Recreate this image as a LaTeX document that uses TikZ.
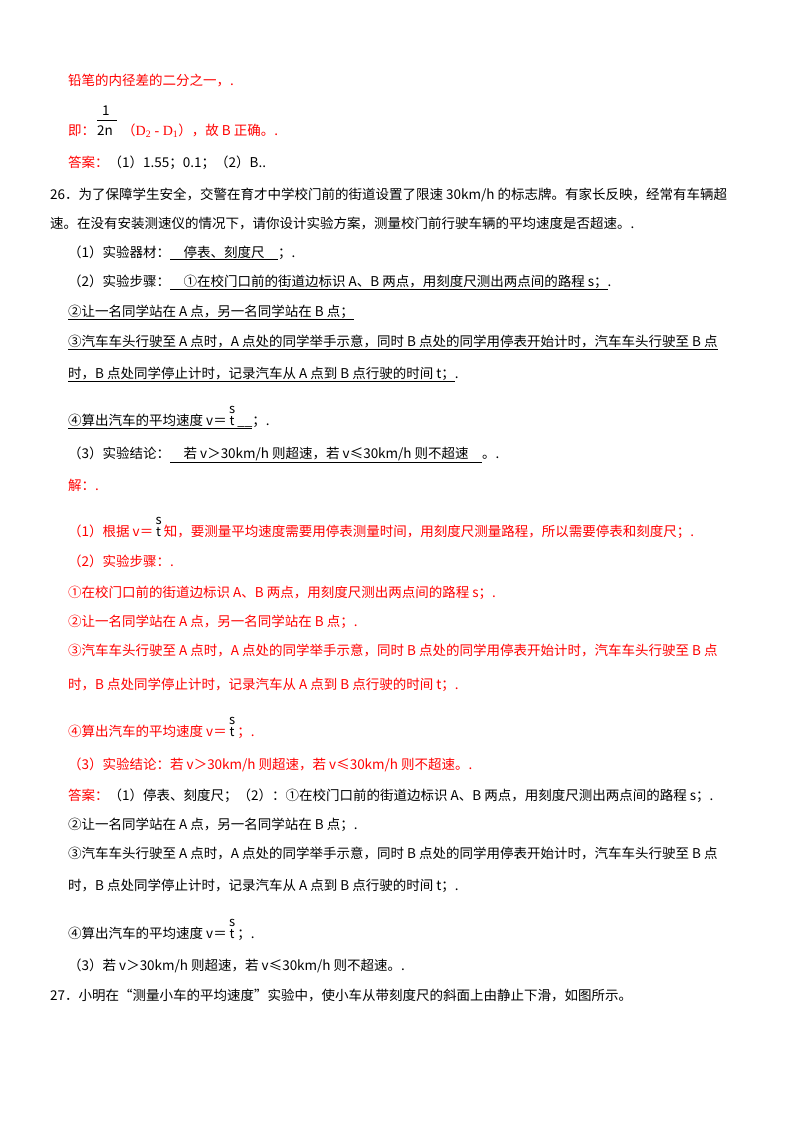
\documentclass[tikz,border=0pt]{standalone}
\usepackage{fontspec}
\setmainfont{Noto Sans CJK SC}
\newfontfamily\lat{Liberation Serif}
\definecolor{rd}{RGB}{255,0,0}
\newcommand\fr[2]{\,\shortstack{\fontsize{13}{13}\selectfont #1\\[-1pt]\fontsize{13}{13}\selectfont #2}\,}
\newcommand\ul[1]{\underline{#1}}
\begin{document}
\begin{tikzpicture}[x=1pt,y=-1pt,every node/.style={anchor=base west,inner sep=0pt,font=\fontsize{13.5}{15}\selectfont}]
\useasboundingbox[fill=white] (0,0) rectangle (800,1132);
\node[rd] (a1) at (68,85) {铅笔的内径差的二分之一，.};
\node (f1) at (102,115) {1};
\draw (97,120) -- (117,120);
\node[rd] (a2) at (68,135) {即：};
\node (a2b) at (97,135) {2n};
\node[rd] (a2c) at (122,135) {（{\lat\fontsize{14}{15}\selectfont D\textsubscript{2} - D\textsubscript{1}}），故 B 正确。.};
\node (a3) at (68,167) {\textcolor{rd}{答案：}（1）1.55；0.1；（2）B..};
\node (b1) at (50,199) {26．为了保障学生安全，交警在育才中学校门前的街道设置了限速 30km/h 的标志牌。有家长反映，经常有车辆超};
\node (b2) at (50,228) {速。在没有安装测速仪的情况下，请你设计实验方案，测量校门前行驶车辆的平均速度是否超速。.};
\node (b3) at (68,257) {（1）实验器材：\ul{\quad 停表、刻度尺\quad}；.};
\node (b4) at (68,286) {（2）实验步骤：\ul{\quad ①在校门口前的街道边标识 A、B 两点，用刻度尺测出两点间的路程 s；}.};
\node (b5) at (68,316) {\ul{②让一名同学站在 A 点，另一名同学站在 B 点；}};
\node (b6) at (68,346) {\ul{③汽车车头行驶至 A 点时，A 点处的同学举手示意，同时 B 点处的同学用停表开始计时，汽车车头行驶至 B 点}};
\node (b7) at (68,378) {\ul{时，B 点处同学停止计时，记录汽车从 A 点到 B 点行驶的时间 t；}.};
\node (b8) at (68,425) {\ul{④算出汽车的平均速度 v＝\fr{s}{t}\_\_}；.};
\node (b9) at (68,458) {（3）实验结论：\ul{\quad 若 v＞30km/h 则超速，若 v≤30km/h 则不超速\quad}。.};
\node[rd] (c1) at (68,490) {解：.};
\node[rd] (c2) at (68,536) {（1）根据 v＝\textcolor{black}{\fr{s}{t}}知，要测量平均速度需要用停表测量时间，用刻度尺测量路程，所以需要停表和刻度尺；.};
\node[rd] (c3) at (68,566) {（2）实验步骤：.};
\node[rd] (c4) at (68,597) {①在校门口前的街道边标识 A、B 两点，用刻度尺测出两点间的路程 s；.};
\node[rd] (c5) at (68,626) {②让一名同学站在 A 点，另一名同学站在 B 点；.};
\node[rd] (c6) at (68,655) {③汽车车头行驶至 A 点时，A 点处的同学举手示意，同时 B 点处的同学用停表开始计时，汽车车头行驶至 B 点};
\node[rd] (c7) at (68,689) {时，B 点处同学停止计时，记录汽车从 A 点到 B 点行驶的时间 t；.};
\node[rd] (c8) at (68,736) {④算出汽车的平均速度 v＝\textcolor{black}{\fr{s}{t}}；.};
\node[rd] (c9) at (68,769) {（3）实验结论：若 v＞30km/h 则超速，若 v≤30km/h 则不超速。.};
\node (d1) at (68,800) {\textcolor{rd}{答案：}（1）停表、刻度尺；（2）：①在校门口前的街道边标识 A、B 两点，用刻度尺测出两点间的路程 s；.};
\node (d2) at (68,829) {②让一名同学站在 A 点，另一名同学站在 B 点；.};
\node (d3) at (68,858) {③汽车车头行驶至 A 点时，A 点处的同学举手示意，同时 B 点处的同学用停表开始计时，汽车车头行驶至 B 点};
\node (d4) at (68,890) {时，B 点处同学停止计时，记录汽车从 A 点到 B 点行驶的时间 t；.};
\node (d5) at (68,938) {④算出汽车的平均速度 v＝\fr{s}{t}；.};
\node (d6) at (68,970) {（3）若 v＞30km/h 则超速，若 v≤30km/h 则不超速。.};
\node (e1) at (50,1000) {27．小明在“测量小车的平均速度”实验中，使小车从带刻度尺的斜面上由静止下滑，如图所示。};
\end{tikzpicture}
\end{document}
